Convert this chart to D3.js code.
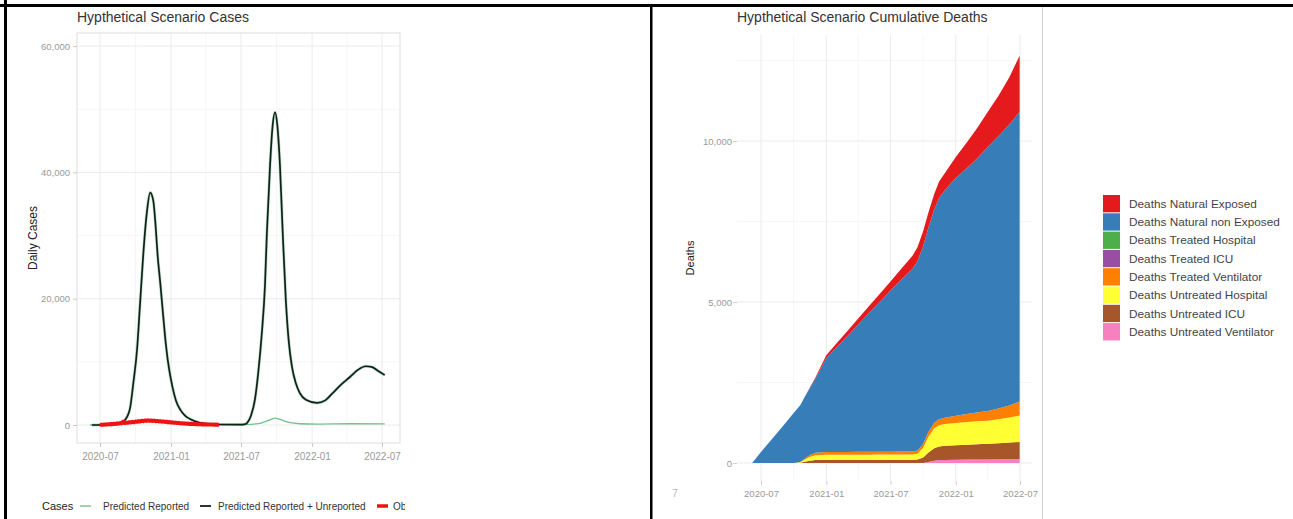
<!DOCTYPE html>
<html>
<head>
<meta charset="utf-8">
<script src="https://cdn.jsdelivr.net/npm/d3@7"></script>
<style>
  html, body { margin: 0; padding: 0; background: #fff; }
  svg { display: block; font-family: "Liberation Sans", Arial, Helvetica, sans-serif; }
</style>
</head>
<body>
<svg id="fig" width="1293" height="519"></svg>
<script>
// ---------- Daily cases (left panel) ----------
const caseDates = ["2020-06-10","2020-07-27","2020-08-17","2020-08-30","2020-09-09","2020-09-17","2020-09-25","2020-10-05","2020-10-13","2020-10-21",
  "2020-10-30","2020-11-08","2020-11-16","2020-11-22","2020-11-27","2020-12-04","2020-12-12","2020-12-19","2020-12-27","2021-01-04",
  "2021-01-14","2021-01-25","2021-02-06","2021-02-19","2021-03-17","2021-04-12","2021-05-08","2021-06-29","2021-07-09","2021-07-17",
  "2021-07-27","2021-08-06","2021-08-15","2021-08-24","2021-09-01","2021-09-06","2021-09-14","2021-09-20","2021-09-27","2021-10-03",
  "2021-10-10","2021-10-17","2021-10-25","2021-11-02","2021-11-10","2021-11-20","2021-11-30","2021-12-16","2022-01-14","2022-02-04",
  "2022-02-24","2022-03-17","2022-04-09","2022-04-29","2022-05-20","2022-06-04","2022-06-20","2022-07-08"];
const predictedTotal = [0,30,150,500,1300,2700,6500,12000,19500,27000,
  33500,36800,35500,31500,27000,22500,17000,12500,8800,6200,
  3800,2400,1500,950,350,150,80,60,100,350,
  1500,4000,8500,14600,22000,30400,40900,46800,49500,47500,
  40900,30400,19800,13000,9200,6600,5100,4000,3500,3900,
  5100,6400,7600,8700,9300,9200,8600,7900];

const reportedDates = ["2020-06-05","2020-07-27","2020-09-09","2020-10-13","2020-11-08","2020-12-12","2021-01-25","2021-03-17","2021-06-29","2021-07-27",
  "2021-08-24","2021-09-14","2021-09-27","2021-10-10","2021-11-02","2021-11-30","2022-01-14","2022-04-09","2022-07-08"];
const predictedReported = [0,50,250,500,650,450,150,60,50,100,
  350,800,1100,900,400,200,150,200,180];

// observed daily counts, one value every 4 days from the first date
const observedStart = "2020-07-01";
const observedStepDays = 4;
const observedValues = [20,60,40,90,70,120,100,160,130,210,180,260,220,310,270,520,300,380,340,450,
  400,500,440,560,500,620,560,680,610,720,650,740,660,720,640,700,600,650,560,610,
  520,570,480,530,430,470,380,430,340,380,300,340,260,300,220,260,190,230,160,200,
  140,180,120,160,100,140,90,120,80,100,70,90,60,80,50,70,40,60];

const dateTicks = ["2020-07-01","2021-01-01","2021-07-01","2022-01-01","2022-07-01"];
const dateMinorTicks = ["2020-10-01","2021-04-01","2021-10-01","2022-04-01"];
const caseYTicks = [0, 20000, 40000, 60000];
const caseYMinor = [10000, 30000, 50000];
const caseLegendTitle = "Cases";
const caseLegendLabels = ["Predicted Reported", "Predicted Reported + Unreported", "Observed"];

// ---------- Cumulative deaths (right panel) ----------
const deathDates = ["2020-06-06","2020-07-01","2020-08-01","2020-09-01","2020-10-01","2020-10-20","2020-11-01","2020-11-15","2020-12-01","2021-01-01",
  "2021-02-01","2021-03-01","2021-04-01","2021-05-01","2021-06-01","2021-07-01","2021-08-01","2021-09-01","2021-09-15","2021-10-01",
  "2021-10-15","2021-11-01","2021-11-15","2021-12-01","2022-01-01","2022-02-01","2022-03-01","2022-04-01","2022-05-01","2022-06-01","2022-06-30"];
const deathsNaturalExposed = [0,0,0,0,0,0,0,15,40,95, 125,155,185,215,250,280,340,405,435,465, 470,490,500,530,650,800,930,1090,1250,1470,1740];
const deathsNaturalNonExposed = [0,340,745,1150,1550,1770,1920,2075,2295,2915, 3272,3590,3958,4306,4659,5007,5344,5675,5875,6145, 6330,6610,6880,7065,7385,7630,7882,8195,8460,8725,9005];
const deathsTreatedHospital = [0,0,0,0,0,0,0,0,0,0, 0,0,0,0,0,0,0,0,0,0, 0,0,0,0,0,0,0,0,0,0,0];
const deathsTreatedICU = [0,0,0,0,0,0,0,0,0,0, 0,0,0,0,0,0,0,0,0,0, 0,0,0,0,0,0,0,0,0,0,0];
const deathsTreatedVentilator = [0,0,0,0,0,0,20,50,75,85, 86,87,88,89,90,91,93,95,100,120, 150,170,185,195,220,250,275,300,330,370,430];
const deathsUntreatedHospital = [0,0,0,0,0,20,70,120,150,155, 157,158,159,160,161,162,163,165,180,300, 480,620,660,675,690,700,710,720,745,780,820];
const deathsUntreatedICU = [0,0,0,0,0,10,40,70,90,100, 100,100,100,100,100,100,100,100,110,170, 290,390,425,440,455,465,475,485,500,515,530];
const deathsUntreatedVentilator = [0,0,0,0,0,0,0,0,0,0, 0,0,0,0,0,0,0,0,0,0, 30,70,90,95,100,105,108,110,115,120,125];

const deathSeriesNames = ["Deaths Natural Exposed","Deaths Natural non Exposed","Deaths Treated Hospital","Deaths Treated ICU",
  "Deaths Treated Ventilator","Deaths Untreated Hospital","Deaths Untreated ICU","Deaths Untreated Ventilator"];
const deathSeriesValues = [deathsNaturalExposed, deathsNaturalNonExposed, deathsTreatedHospital, deathsTreatedICU,
  deathsTreatedVentilator, deathsUntreatedHospital, deathsUntreatedICU, deathsUntreatedVentilator];
const deathColors = ["#E41A1C","#377EB8","#4DAF4A","#984EA3","#FF7F00","#FFFF33","#A65628","#F781BF"];
const deathYTicks = [0, 5000, 10000];
const deathYMinor = [2500, 7500, 12500];

// ---------- drawing ----------
const parse = d3.utcParse("%Y-%m-%d");
const fmt = d3.format(",");
const svg = d3.select("#fig");

svg.append("defs").append("clipPath").attr("id", "leftClip")
  .append("rect").attr("x", 0).attr("y", 0).attr("width", 405).attr("height", 519);

// ---- left panel ----
{
  const g = svg.append("g").attr("clip-path", "url(#leftClip)");
  const P = { l: 77, r: 400, t: 33, b: 443 };
  const x = d3.scaleUtc().domain([parse("2020-07-01"), parse("2022-07-01")]).range([100, 382]);
  const y = d3.scaleLinear().domain([0, 60000]).range([425, 46.1]);

  const grid = g.append("g");
  caseYMinor.forEach(v => grid.append("line").attr("x1", P.l).attr("x2", P.r).attr("y1", y(v)).attr("y2", y(v))
    .attr("stroke", "#f4f4f4").attr("stroke-width", 0.8));
  dateMinorTicks.forEach(d => grid.append("line").attr("x1", x(parse(d))).attr("x2", x(parse(d))).attr("y1", P.t).attr("y2", P.b)
    .attr("stroke", "#f4f4f4").attr("stroke-width", 0.8));
  caseYTicks.forEach(v => grid.append("line").attr("x1", P.l).attr("x2", P.r).attr("y1", y(v)).attr("y2", y(v))
    .attr("stroke", "#ebebeb").attr("stroke-width", 1));
  dateTicks.forEach(d => grid.append("line").attr("x1", x(parse(d))).attr("x2", x(parse(d))).attr("y1", P.t).attr("y2", P.b)
    .attr("stroke", "#ebebeb").attr("stroke-width", 1));
  g.append("rect").attr("x", P.l).attr("y", P.t).attr("width", P.r - P.l).attr("height", P.b - P.t)
    .attr("fill", "none").attr("stroke", "#dedede").attr("stroke-width", 1);

  const yAxis = g.append("g").attr("transform", `translate(${P.l},0)`)
    .call(d3.axisLeft(y).tickValues(caseYTicks).tickFormat(fmt).tickSize(4).tickPadding(3));
  const xAxis = g.append("g").attr("transform", `translate(0,${P.b})`)
    .call(d3.axisBottom(x).tickValues(dateTicks.map(parse)).tickFormat(d3.utcFormat("%Y-%m")).tickSize(4).tickPadding(6));
  [yAxis, xAxis].forEach(a => {
    a.select(".domain").remove();
    a.selectAll(".tick line").attr("stroke", "#c8c8c8");
    a.selectAll("text").attr("fill", "#9a9a9a").attr("font-family", "Liberation Sans, Arial, sans-serif");
  });
  yAxis.selectAll("text").attr("font-size", 9.5);
  xAxis.selectAll("text").attr("font-size", 10);

  const line = d3.line().x(d => x(d[0])).y(d => y(d[1])).curve(d3.curveMonotoneX);
  const greenPts = reportedDates.map((d, i) => [parse(d), predictedReported[i]]);
  const blackPts = caseDates.map((d, i) => [parse(d), predictedTotal[i]]);
  const obsDates = d3.utcDay.range(parse(observedStart), d3.utcDay.offset(parse(observedStart), observedValues.length * observedStepDays), observedStepDays);
  const redPts = observedValues.map((v, i) => [obsDates[i], v]);

  g.append("path").attr("d", line(greenPts)).attr("fill", "none").attr("stroke", "#74c08c").attr("stroke-width", 1.3);
  g.append("path").attr("d", line(blackPts)).attr("fill", "none").attr("stroke", "#5aa878").attr("stroke-width", 3).attr("stroke-opacity", 0.4);
  g.append("path").attr("d", line(blackPts)).attr("fill", "none").attr("stroke", "#0f2218").attr("stroke-width", 1.7);
  g.append("path").attr("d", d3.line().x(d => x(d[0])).y(d => y(d[1]))(redPts))
    .attr("fill", "none").attr("stroke", "#f01212").attr("stroke-width", 4).attr("stroke-linejoin", "round");

  g.append("text").attr("x", 77).attr("y", 22).attr("font-size", 14).attr("fill", "#333")
    .text("Hypthetical Scenario Cases");
  g.append("text").attr("transform", "translate(33,238) rotate(-90)").attr("text-anchor", "middle").attr("dy", "0.35em")
    .attr("font-size", 12).attr("fill", "#222").text("Daily Cases");

  // legend
  const ly = 506;
  g.append("text").attr("x", 42).attr("y", ly).attr("dy", "0.35em").attr("font-size", 11).attr("fill", "#222").text(caseLegendTitle);
  const keyX = [80, 200, 377], textX = [103, 218, 393];
  const keyColor = ["#74c08c", "#0f2218", "#f01212"], keyW = [1.4, 1.8, 3.5];
  caseLegendLabels.forEach((lab, i) => {
    g.append("line").attr("x1", keyX[i]).attr("x2", keyX[i] + 11).attr("y1", ly).attr("y2", ly)
      .attr("stroke", keyColor[i]).attr("stroke-width", keyW[i]);
    g.append("text").attr("x", textX[i]).attr("y", ly).attr("dy", "0.35em").attr("font-size", 10).attr("fill", "#333").text(lab);
  });
}

// ---- right panel ----
{
  const g = svg.append("g");
  const P = { l: 737, r: 1032, t: 35, b: 481 };
  const x = d3.scaleUtc().domain([parse("2020-07-01"), parse("2022-07-01")]).range([761, 1020]);
  const y = d3.scaleLinear().domain([0, 10000]).range([463, 141]);

  const grid = g.append("g");
  deathYMinor.forEach(v => grid.append("line").attr("x1", P.l).attr("x2", P.r).attr("y1", y(v)).attr("y2", y(v))
    .attr("stroke", "#f4f4f4").attr("stroke-width", 0.8));
  dateMinorTicks.forEach(d => grid.append("line").attr("x1", x(parse(d))).attr("x2", x(parse(d))).attr("y1", P.t).attr("y2", P.b)
    .attr("stroke", "#f4f4f4").attr("stroke-width", 0.8));
  deathYTicks.forEach(v => grid.append("line").attr("x1", P.l).attr("x2", P.r).attr("y1", y(v)).attr("y2", y(v))
    .attr("stroke", "#ebebeb").attr("stroke-width", 1));
  dateTicks.forEach(d => grid.append("line").attr("x1", x(parse(d))).attr("x2", x(parse(d))).attr("y1", P.t).attr("y2", P.b)
    .attr("stroke", "#ebebeb").attr("stroke-width", 1));

  // stacked areas: last legend entry sits at the bottom of the stack
  const rows = deathDates.map((d, i) => {
    const r = { date: parse(d) };
    deathSeriesNames.forEach((n, k) => { r[n] = deathSeriesValues[k][i]; });
    return r;
  });
  const stackKeys = deathSeriesNames.slice().reverse();
  const layers = d3.stack().keys(stackKeys)(rows);
  const area = d3.area().x(d => x(d.data.date)).y0(d => y(d[0])).y1(d => y(d[1]));
  g.append("g").selectAll("path").data(layers).join("path")
    .attr("d", area)
    .attr("fill", d => deathColors[deathSeriesNames.indexOf(d.key)]);

  const yAxis = g.append("g").attr("transform", `translate(${P.l},0)`)
    .call(d3.axisLeft(y).tickValues(deathYTicks).tickFormat(fmt).tickSize(4).tickPadding(1));
  const xAxis = g.append("g").attr("transform", `translate(0,${P.b})`)
    .call(d3.axisBottom(x).tickValues(dateTicks.map(parse)).tickFormat(d3.utcFormat("%Y-%m")).tickSize(4).tickPadding(5));
  [yAxis, xAxis].forEach(a => {
    a.select(".domain").remove();
    a.selectAll(".tick line").attr("stroke", "#d0d0d0");
    a.selectAll("text").attr("fill", "#9a9a9a").attr("font-family", "Liberation Sans, Arial, sans-serif");
  });
  yAxis.selectAll("text").attr("font-size", 9.5);
  xAxis.selectAll("text").attr("font-size", 9.5);

  g.append("text").attr("x", 737).attr("y", 22).attr("font-size", 14).attr("fill", "#333")
    .text("Hypthetical Scenario Cumulative Deaths");
  g.append("text").attr("transform", "translate(690,258) rotate(-90)").attr("text-anchor", "middle").attr("dy", "0.35em")
    .attr("font-size", 11).attr("fill", "#222").text("Deaths");
  g.append("text").attr("x", 675).attr("y", 497).attr("text-anchor", "middle").attr("font-size", 10).attr("fill", "#b5b5b5").text("7");

  // legend
  const lg = g.append("g");
  deathSeriesNames.forEach((n, i) => {
    const yy = 195 + i * 18.3;
    lg.append("rect").attr("x", 1103).attr("y", yy).attr("width", 17).attr("height", 17.3).attr("fill", deathColors[i]);
    lg.append("text").attr("x", 1129).attr("y", yy + 8.7).attr("dy", "0.35em").attr("font-size", 11.8).attr("fill", "#444").text(n);
  });

  // image edge line
  g.append("line").attr("x1", 1042.5).attr("x2", 1042.5).attr("y1", 7).attr("y2", 519).attr("stroke", "#d4d4d4").attr("stroke-width", 1);
}

// ---- frame ----
const frame = svg.append("g").attr("fill", "#000");
frame.append("rect").attr("x", 0).attr("y", 4).attr("width", 1293).attr("height", 3);
frame.append("rect").attr("x", 4).attr("y", 0).attr("width", 3).attr("height", 519);
frame.append("rect").attr("x", 650).attr("y", 4).attr("width", 2.5).attr("height", 515);
</script>
</body>
</html>
